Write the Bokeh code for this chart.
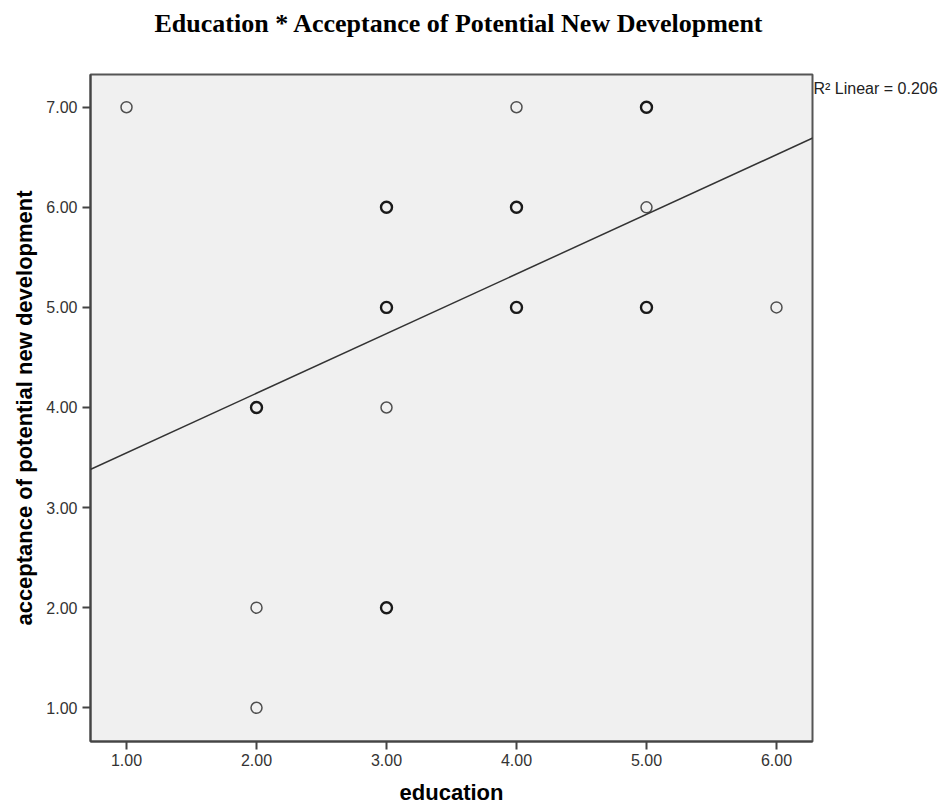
from bokeh.plotting import figure
from bokeh.models import (Range1d, FixedTicker, NumeralTickFormatter, Slope,
                          ColumnDataSource, LinearAxis, Title)
from bokeh.embed import file_html
from bokeh.resources import INLINE

# ---- data ----
education = [1, 2, 2, 2, 3, 3, 3, 3, 4, 4, 4, 5, 5, 5, 6]
acceptance = [7, 4, 2, 1, 6, 5, 4, 2, 7, 6, 5, 7, 6, 5, 5]
n_overlap = [1, 2, 1, 1, 2, 2, 1, 2, 1, 2, 2, 2, 1, 2, 1]
fit_intercept = 2.95
fit_slope = 0.596
r2_text = "R\u00b2 Linear = 0.206"
r2_pos = 7.19
x_ticks = [1, 2, 3, 4, 5, 6]
y_ticks = [1, 2, 3, 4, 5, 6, 7]
title_text = "Education * Acceptance of Potential New Development"
x_title = "education"
y_title = "acceptance of potential new development"

x_lo, x_hi = 0.723, 6.277
y_lo, y_hi = 0.663, 7.327

p = figure(width=946, height=809, output_backend="svg", toolbar_location=None,
           x_range=Range1d(x_lo, x_hi), y_range=Range1d(y_lo, y_hi),
           min_border_left=90, min_border_right=134, min_border_top=74, min_border_bottom=68)

p.background_fill_color = "#f0f0f0"
p.border_fill_color = "white"
p.outline_line_color = "#555555"
p.outline_line_width = 2
p.grid.visible = False

# spacer between frame and main title (keeps the title near the top)
p.add_layout(Title(text=" ", text_font_size="10px", standoff=24), "above")

main_title = Title(text=title_text, text_font="Liberation Serif", text_font_style="bold",
                   text_font_size="26px", align="left", offset=64, standoff=0,
                   text_color="black")
p.add_layout(main_title, "above")

for ax, ticks in ((p.xaxis[0], x_ticks), (p.yaxis[0], y_ticks)):
    ax.ticker = FixedTicker(ticks=ticks)
    ax.formatter = NumeralTickFormatter(format="0.00")
    ax.minor_tick_line_color = None
    ax.major_tick_in = 0
    ax.major_tick_out = 8
    ax.major_tick_line_width = 2
    ax.major_tick_line_color = "#444444"
    ax.axis_line_color = "#444444"
    ax.axis_line_width = 2
    ax.major_label_text_font = "Liberation Sans"
    ax.major_label_text_font_size = "16px"
    ax.major_label_text_color = "#333333"
    ax.axis_label_text_font = "Liberation Sans"
    ax.axis_label_text_font_style = "bold"
    ax.axis_label_text_font_size = "22px"
    ax.axis_label_text_color = "black"

p.xaxis.axis_label = x_title
p.yaxis.axis_label = y_title
p.xaxis.major_label_standoff = 4
p.xaxis.axis_label_standoff = 11
p.yaxis.major_label_standoff = 5
p.yaxis.axis_label_standoff = 6

# R^2 annotation placed beside the frame (right side)
r2_axis = LinearAxis(ticker=FixedTicker(ticks=[r2_pos]),
                     major_label_overrides={r2_pos: r2_text})
r2_axis.axis_line_color = None
r2_axis.major_tick_line_color = None
r2_axis.minor_tick_line_color = None
r2_axis.major_tick_out = 0
r2_axis.major_tick_in = 0
r2_axis.major_label_standoff = 1
r2_axis.major_label_text_font = "Liberation Sans"
r2_axis.major_label_text_font_size = "16px"
r2_axis.major_label_text_color = "#222222"
p.add_layout(r2_axis, "right")

src = ColumnDataSource(dict(x=education, y=acceptance,
                            lw=[1.5 if n == 1 else 2.4 for n in n_overlap],
                            lc=["#505050" if n == 1 else "#1a1a1a" for n in n_overlap]))
p.scatter("x", "y", source=src, marker="circle", size=11, fill_color=None,
          line_color="lc", line_width="lw")

p.add_layout(Slope(gradient=fit_slope, y_intercept=fit_intercept,
                   line_color="#333333", line_width=1.5))

open("out.html", "w").write(file_html(p, INLINE))
